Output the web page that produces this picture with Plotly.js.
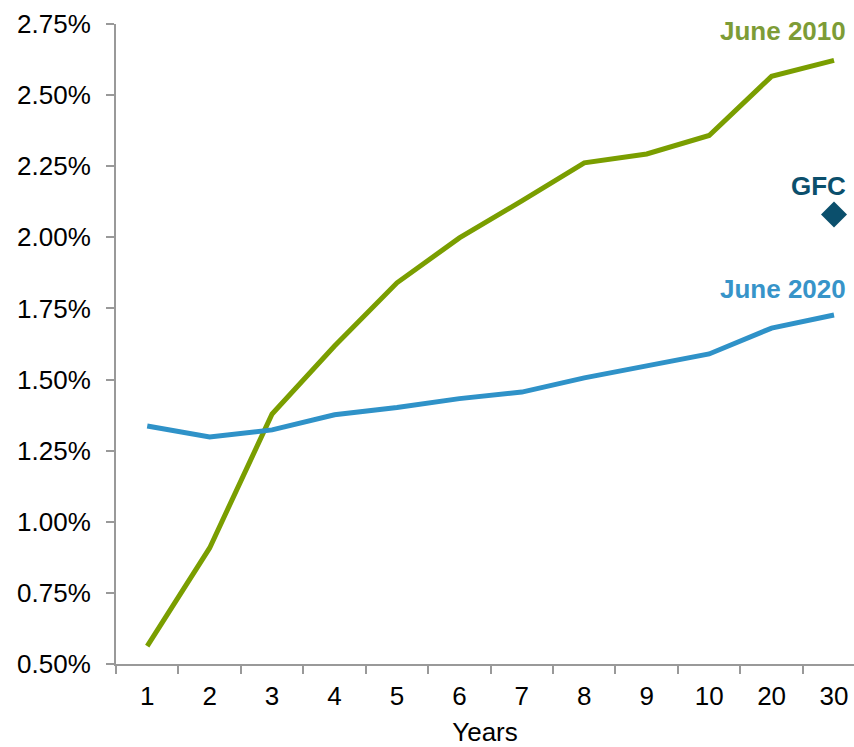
<!DOCTYPE html>
<html>
<head>
<meta charset="utf-8">
<script src="https://cdn.plot.ly/plotly-3.0.1.min.js"></script>
<style>
  html, body { margin: 0; padding: 0; background: #fff; }
  #chart { width: 854px; height: 747px; }
</style>
</head>
<body>
<div id="chart"></div>
<script>
// Yield curve maturities (years) and yields (%)
const maturities = ['1', '2', '3', '4', '5', '6', '7', '8', '9', '10', '20', '30'];
const june2010 = [0.563, 0.908, 1.379, 1.618, 1.840, 1.998, 2.128, 2.262, 2.293, 2.358, 2.566, 2.622];
const june2020 = [1.337, 1.298, 1.323, 1.376, 1.402, 1.433, 1.456, 1.506, 1.548, 1.590, 1.681, 1.727];
const gfcMaturity = ['30'];
const gfcYield = [2.080];
const yTicks = [0.50, 0.75, 1.00, 1.25, 1.50, 1.75, 2.00, 2.25, 2.50, 2.75];

const font = 'Liberation Sans, Arial, sans-serif';
const green = '#7a9e00';
const blue = '#2f92c8';
const navy = '#0b4f6c';
const axisGrey = '#999999';

const traces = [
  {
    x: maturities, y: june2010, type: 'scatter', mode: 'lines',
    line: { color: green, width: 5 }, hoverinfo: 'skip', cliponaxis: false
  },
  {
    x: maturities, y: june2020, type: 'scatter', mode: 'lines',
    line: { color: blue, width: 5 }, hoverinfo: 'skip', cliponaxis: false
  },
  {
    x: gfcMaturity, y: gfcYield, type: 'scatter', mode: 'markers',
    marker: { symbol: 'diamond', size: 20, color: navy }, hoverinfo: 'skip', cliponaxis: false
  }
];

// series labels sit at the long end of the curve (category index of "30")
const lastIdx = maturities.indexOf('30');
const labelFont = (c) => ({ family: font, size: 26, color: c, weight: 700 });

const layout = {
  width: 854, height: 747,
  margin: { l: 116, r: 0, t: 24, b: 83 },
  paper_bgcolor: '#fff', plot_bgcolor: '#fff',
  showlegend: false,
  font: { family: font, size: 26, color: '#000' },
  xaxis: {
    type: 'category',
    categoryorder: 'array', categoryarray: maturities,
    range: [-0.5, 11.32],
    showgrid: false, zeroline: false,
    showline: true, linecolor: axisGrey, linewidth: 2,
    ticks: 'outside', tickson: 'boundaries', ticklen: 8, tickwidth: 2, tickcolor: axisGrey,
    ticklabelstandoff: 8,
    tickfont: { family: font, size: 26, color: '#000' },
    title: { text: 'Years', font: { family: font, size: 26, color: '#000' }, standoff: 21 }
  },
  yaxis: {
    range: [0.5, 2.75],
    tickvals: yTicks,
    ticktext: yTicks.map(v => v.toFixed(2) + '%'),
    showgrid: false, zeroline: false,
    showline: true, linecolor: axisGrey, linewidth: 2,
    ticks: 'outside', ticklen: 8, tickwidth: 2, tickcolor: axisGrey,
    ticklabelstandoff: 10,
    tickfont: { family: font, size: 26, color: '#000' }
  },
  annotations: [
    { x: lastIdx, y: 2.724, xref: 'x', yref: 'y', text: 'June 2010', showarrow: false,
      xanchor: 'right', yanchor: 'middle', xshift: 14, font: labelFont('#7d9c36') },
    { x: lastIdx, y: 2.181, xref: 'x', yref: 'y', text: 'GFC', showarrow: false,
      xanchor: 'right', yanchor: 'middle', xshift: 14, font: labelFont(navy) },
    { x: lastIdx, y: 1.817, xref: 'x', yref: 'y', text: 'June 2020', showarrow: false,
      xanchor: 'right', yanchor: 'middle', xshift: 14, font: labelFont('#3794c9') }
  ]
};

Plotly.newPlot('chart', traces, layout, { displayModeBar: false, staticPlot: true });
</script>
</body>
</html>
